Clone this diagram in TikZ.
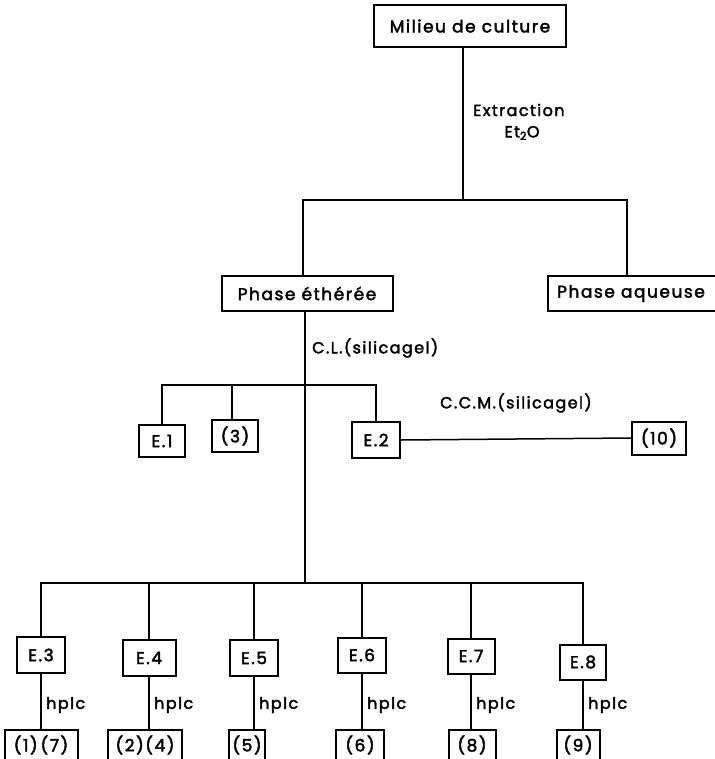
\documentclass[tikz,border=0pt]{standalone}
\usepackage{fontspec}
\setmainfont{Poppins}[LetterSpace=9,FakeBold=2.4]
\begin{document}
\begin{tikzpicture}[x=1pt,y=-1pt,
  box/.style={draw,line width=2pt,inner sep=0pt,font=\fontsize{17}{19}\selectfont},
  wire/.style={line width=2.2pt},
  thin wire/.style={line width=1.5pt},
  lbl/.style={font=\fontsize{16}{18}\selectfont,inner sep=0pt}]
\useasboundingbox (0,0) rectangle (714,759);
% nodes
\node[box,minimum width=192pt,minimum height=42pt] (milieu) at (470,26) {Milieu de culture};
\node[box,minimum width=171pt,minimum height=35pt] (ether) at (307,293.5) {Phase éthérée};
\node[box,minimum width=170pt,minimum height=35pt] (aq) at (633,293.5) {\hspace*{-4pt}Phase aqueuse};
\node[box,minimum width=46pt,minimum height=32pt] (E1) at (162,441) {E.1};
\node[box,minimum width=46pt,minimum height=32pt] (n3) at (235,436) {(3)};
\node[box,minimum width=48pt,minimum height=36pt] (E2) at (376,440) {E.2};
\node[box,minimum width=54pt,minimum height=33pt] (n10) at (659,438) {(10)};
\node[box,minimum width=48pt,minimum height=36pt] (E3) at (41,655) {E.3};
\node[box,minimum width=53pt,minimum height=36pt] (E4) at (149,658) {E.4};
\node[box,minimum width=48pt,minimum height=36pt] (E5) at (254,658) {E.5};
\node[box,minimum width=48pt,minimum height=35pt] (E6) at (362,655) {E.6};
\node[box,minimum width=47pt,minimum height=35pt] (E7) at (471,656) {E.7};
\node[box,minimum width=46pt,minimum height=35pt] (E8) at (583,662) {E.8};
\node[box,minimum width=73pt,minimum height=30pt] (r17) at (41,745) {(1)\,(7)};
\node[box,minimum width=74pt,minimum height=30pt] (r24) at (145,745) {(2)(4)};
\node[box,minimum width=36pt,minimum height=30pt] (r5) at (247,745) {(5)};
\node[box,minimum width=48pt,minimum height=30pt] (r6) at (360,745) {(6)};
\node[box,minimum width=47pt,minimum height=30pt] (r8) at (472,745) {(8)};
\node[box,minimum width=43pt,minimum height=30pt] (r9) at (578,745) {(9)};
% junctions
\coordinate (j1) at (463,200);
\coordinate (j2) at (305,385);
\coordinate (j3) at (305,583);
% connectors
\draw[wire] (milieu.south -| j1) -- (j1);
\draw[wire] (ether.north -| 303,0) |- (j1) -| (aq.north -| 627,0);
\draw[wire] (ether.south -| j2) -- (j3);
\draw[wire] (E1.north) |- (j2) -| (E2.north);
\draw[wire] (n3.north -| 232,0) -- (232,385);
\draw[thin wire] (E2.east) -- (n10.west);
\draw[wire] (E3.north) |- (j3);
\draw[wire] (j3) -| (E8.north);
\foreach \e in {E4,E5,E6,E7} \draw[wire] (\e.north) -- (\e.north |- j3);
\foreach \e/\r in {E3/r17,E4/r24,E5/r5,E6/r6,E7/r8,E8/r9}
  \draw[wire] (\e.south) -- (\e.south |- \r.north);
% labels
\node[lbl,anchor=west] (ext) at (473,110) {Extraction};
\node[lbl] (et) at (522,133) {Et\textsubscript{2}O};
\node[lbl,anchor=west] (cl) at (312,348) {C.L.(silicagel)};
\node[lbl,anchor=west] (ccm) at (440,403) {C.C.M.(silicagel)};
\foreach \e in {E3,E4,E5,E6,E7,E8}
  \node[lbl,anchor=west] at ([xshift=5pt]\e.south |- 0,705) {hplc};
\end{tikzpicture}
\end{document}
